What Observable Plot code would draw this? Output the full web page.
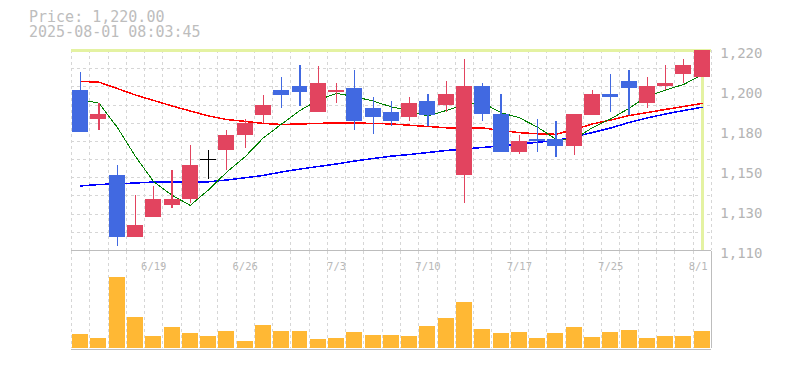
<!DOCTYPE html>
<html><head><meta charset="utf-8">
<script src="https://cdn.jsdelivr.net/npm/d3@7"></script>
<script src="https://cdn.jsdelivr.net/npm/@observablehq/plot@0.6"></script>
<style>
html,body{margin:0;padding:0;background:#fff;}
#wrap{position:relative;width:785px;height:370px;overflow:hidden;background:#fff;}
#wrap svg{position:absolute;left:0;top:0;}
#hdr{position:absolute;left:29px;top:10px;font:15px/15px "DejaVu Sans Mono",monospace;color:#bdbdbd;white-space:pre;z-index:2;}
</style></head><body>
<div id="wrap"><div id="hdr"></div></div>
<script>
const dates = ["6/13","6/16","6/17","6/18","6/19","6/20","6/23","6/24","6/25","6/26","6/27","6/30","7/1","7/2","7/3","7/4","7/7","7/8","7/9","7/10","7/11","7/14","7/15","7/16","7/17","7/18","7/22","7/23","7/24","7/25","7/28","7/29","7/30","7/31","8/1"];
const open  = [1198,1182,1151,1117,1128,1135,1138,1160,1165,1173,1184,1198,1200,1186,1197,1199,1188,1186,1183,1192,1190,1151,1200,1185,1164,1171,1171,1167,1184,1196,1203,1191,1200,1207,1205];
const high  = [1208,1191,1157,1140,1145,1154,1168,1165,1176,1182,1195,1205,1212,1211,1202,1209,1194,1192,1194,1196,1203,1215,1202,1196,1173,1182,1181,1185,1198,1207,1209,1205,1212,1215,1220];
const low   = [1175,1176,1112,1117,1128,1133,1136,1149,1154,1166,1180,1188,1189,1186,1191,1176,1174,1178,1181,1178,1186,1136,1181,1164,1163,1164,1161,1162,1184,1186,1184,1188,1198,1202,1205];
const close = [1175,1185,1117,1124,1138,1138,1157,1160,1173,1180,1190,1195,1197,1202,1198,1181,1183,1181,1191,1184,1196,1200,1185,1164,1170,1170,1167,1185,1196,1194,1199,1200,1202,1212,1220];
const volume = [21000,15000,107000,46500,18000,31500,22500,18000,25500,10500,34500,25500,25500,13500,15000,24000,19500,19500,18000,33000,45000,69000,28500,22500,24000,15000,22500,31500,16500,24000,27000,15000,18000,18000,25500];
const ma5  = [1193.0,1191.0,1177.8,1161.7,1147.8,1140.4,1134.8,1143.4,1153.2,1161.6,1172.0,1179.6,1187.0,1192.8,1196.4,1194.6,1192.2,1189.0,1186.8,1184.0,1187.0,1190.4,1191.2,1185.8,1183.0,1177.8,1171.2,1171.2,1177.6,1182.4,1188.2,1194.8,1198.2,1201.4,1206.6];
const ma25 = [1203.0,1202.6,1199.1,1195.5,1192.5,1189.5,1186.7,1184.0,1182.0,1181.0,1179.9,1179.3,1179.6,1179.9,1180.2,1180.1,1179.9,1179.6,1178.9,1178.2,1177.5,1177.5,1177.4,1176.0,1174.8,1174.2,1173.9,1176.6,1179.6,1181.8,1184.2,1185.9,1187.6,1189.2,1190.9];
const ma75 = [1145.5,1146.3,1146.7,1147.1,1147.7,1147.8,1147.7,1147.8,1148.8,1150.0,1151.3,1153.2,1154.8,1156.2,1157.6,1159.2,1160.6,1161.9,1162.8,1163.9,1165.0,1165.8,1166.7,1167.5,1168.6,1169.5,1170.5,1172.4,1174.9,1177.4,1180.4,1182.9,1185.1,1187.0,1188.8];
const yTicks = [1220,1198,1176,1154,1132,1110];
const xLabels = ["6/19","6/26","7/3","7/10","7/17","7/25","8/1"];
const priceText = "Price: 1,220.00";
const timeText = "2025-08-01 08:03:45";

document.getElementById("hdr").textContent = priceText + "\n" + timeText;

const rows = dates.map((d, i) => ({i, date: d, open: open[i], high: high[i], low: low[i], close: close[i],
  volume: volume[i], ma5: ma5[i], ma25: ma25[i], ma75: ma75[i]}));
const HALF = 0.4375;
const UP = "#e2445f", DOWN = "#4169e1", DOJI = "#000000";
const col = d => d.close > d.open ? UP : d.close < d.open ? DOWN : DOJI;
const W = 785, H = 370, L = 71, R = 74.2;
const xs = {type: "linear", domain: [-0.5, dates.length - 0.5], axis: null};
const crisp = {shapeRendering: "crispEdges"};
const grid = {stroke: "#d6d6d6", strokeDasharray: "3,3", strokeWidth: 1, ...crisp};
const bounds = d3.range(dates.length + 1).map(k => k - 0.5);
const last = rows[rows.length - 1];
const cursor = "#e4f2a2";
const style = {background: "transparent", fontFamily: "DejaVu Sans Mono", color: "#b4b4b4", overflow: "visible"};

const price = Plot.plot({
  width: W, height: H, marginLeft: L, marginRight: R, marginTop: 50, marginBottom: 120,
  x: xs, y: {domain: [1110, 1220]},
  style,
  marks: [
    Plot.ruleY(d3.range(1120, 1220, 10), grid),
    Plot.ruleX(bounds, grid),
    Plot.ruleY([1110], {stroke: "#bdbdbd", ...crisp}),
    Plot.ruleY([last.close], {stroke: cursor, strokeWidth: 2.5, ...crisp}),
    Plot.ruleX([last.i], {y1: 1110, y2: last.close, stroke: cursor, strokeWidth: 3, ...crisp}),
    Plot.line(rows, {x: "i", y: "ma75", stroke: "#0000ff", strokeWidth: 1.5, ...crisp}),
    Plot.line(rows, {x: "i", y: "ma25", stroke: "#ff0000", strokeWidth: 1.5, ...crisp}),
    Plot.line(rows, {x: "i", y: "ma5", stroke: "#008000", strokeWidth: 1, ...crisp}),
    Plot.ruleX(rows, {x: "i", y1: "low", y2: "high", stroke: col, strokeWidth: 1.2, ...crisp}),
    Plot.rect(rows.filter(d => d.open !== d.close), {x1: d => d.i - HALF, x2: d => d.i + HALF, y1: "open", y2: "close", fill: col, ...crisp}),
    Plot.ruleY(rows.filter(d => d.open === d.close), {x1: d => d.i - HALF, x2: d => d.i + HALF, y: "close", stroke: DOJI, strokeWidth: 1.5, ...crisp}),
    Plot.axisY(yTicks, {anchor: "right", tickSize: 0, tickPadding: 9, fontSize: 14, dy: 3.5, fill: "#b4b4b4",
      tickFormat: v => d3.format(",")(Math.round(v / 10) * 10)})
  ]
});

const labelRows = xLabels.map(l => rows.find(r => r.date === l));
const vol = Plot.plot({
  width: W, height: H, marginLeft: L, marginRight: R, marginTop: 251, marginBottom: 22,
  x: xs, y: {domain: [0, 145500], axis: null},
  style,
  marks: [
    Plot.ruleX(bounds.slice(0, -1), grid),
    Plot.rect(rows, {x1: d => d.i - HALF, x2: d => d.i + HALF, y1: 0, y2: "volume", fill: "#ffb834", ...crisp}),
    Plot.ruleY([0], {stroke: "#bdbdbd", dy: 1, ...crisp}),
    Plot.ruleX([dates.length - 0.5], {stroke: "#bdbdbd", ...crisp}),
    Plot.text(labelRows.slice(0, -1), {x: "i", text: "date", frameAnchor: "top", dy: 11, fontSize: 10.5, fill: "#b8b8b8"}),
    Plot.text(labelRows.slice(-1), {x: "i", text: "date", frameAnchor: "top", dy: 11, dx: -4, fontSize: 10.5, fill: "#b8b8b8"})
  ]
});

const wrap = document.getElementById("wrap");
wrap.appendChild(vol);
wrap.appendChild(price);
</script>
</body></html>
